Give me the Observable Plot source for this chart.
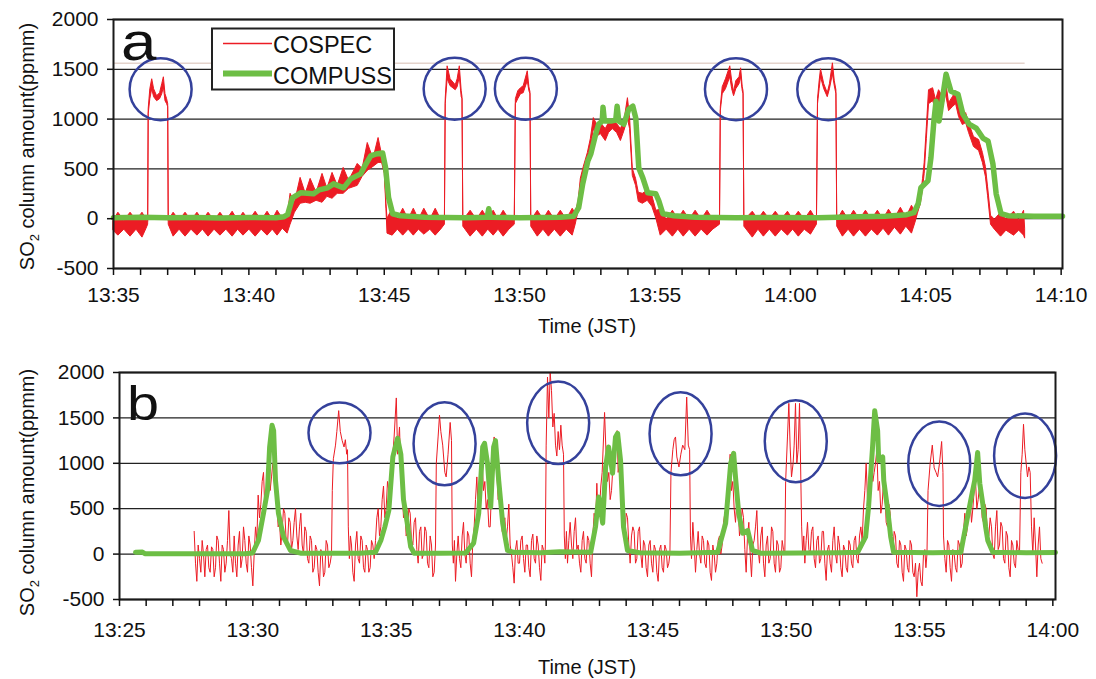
<!DOCTYPE html>
<html><head><meta charset="utf-8">
<script src="https://cdn.jsdelivr.net/npm/d3@7"></script>
<script src="https://cdn.jsdelivr.net/npm/@observablehq/plot@0.6"></script>
<style>
body{margin:0;background:#fff;}
#wrap{position:relative;width:1096px;height:679px;overflow:hidden;background:#fff;}
#wrap svg{position:absolute;left:0;}
</style></head><body><div id="wrap"></div>
<script>
// ---------- DATA ----------
// Panel a: minutes after 13:35 ; Panel b: minutes after 13:25
const yTicks = [-500, 0, 500, 1000, 1500, 2000];
const xTickLabelsA = ["13:35","13:40","13:45","13:50","13:55","14:00","14:05","14:10"];
const xTickLabelsB = ["13:25","13:30","13:35","13:40","13:45","13:50","13:55","14:00"];

// COSPEC panel a: [minute, low envelope, high envelope] (ppmm)
const cospecA = [
[0,-120,-20],[0.18,-170,60],[0.40,-110,-20],[0.63,-180,60],[0.85,-110,-20],[1.07,-190,60],[1.22,-100,-10],[1.28,-60,-30],
[1.30,1050,1100],[1.36,1200,1300],[1.43,1300,1400],[1.50,1220,1300],[1.61,1180,1230],[1.72,1200,1260],[1.80,1250,1350],[1.86,1320,1420],[1.92,1180,1250],[1.98,1150,1200],[2.02,1120,1150],
[2.04,-60,-20],[2.22,-180,60],[2.44,-110,-20],[2.66,-180,60],[2.88,-110,-20],[3.10,-170,60],[3.30,-110,-20],[3.51,-180,60],[3.73,-110,-20],[3.95,-170,60],[4.17,-110,-20],[4.40,-180,70],[4.60,-110,-20],[4.80,-170,60],[5.02,-110,-20],[5.25,-180,70],[5.47,-110,-20],[5.69,-170,70],[5.88,-110,-10],[6.06,-170,80],[6.25,-100,0],
[6.43,-150,20],[6.54,-60,250],[6.70,60,160],[6.91,150,410],[7.10,160,250],[7.28,150,400],[7.50,180,260],[7.72,160,450],[7.90,220,300],[8.09,200,460],[8.28,250,330],[8.50,250,510],[8.70,300,380],[9.02,330,550],[9.20,420,500],[9.39,480,760],[9.60,520,600],[9.79,560,810],[9.92,560,640],[10.02,450,520],[10.08,100,150],[10.12,-150,0],
[10.31,-170,100],[10.50,-110,-10],[10.70,-170,100],[10.90,-110,-10],[11.09,-170,100],[11.28,-110,-10],[11.48,-160,100],[11.70,-110,-10],[11.90,-170,100],[12.10,-110,-10],[12.24,-60,-20],
[12.27,1150,1200],[12.34,1400,1530],[12.45,1330,1400],[12.64,1290,1340],[12.71,1320,1400],[12.79,1420,1530],[12.86,1220,1280],[12.89,1200,1220],
[12.92,-80,-20],[13.19,-180,80],[13.42,-110,-10],[13.64,-180,80],[13.84,-110,-10],[14.04,-170,80],[14.22,-110,-10],[14.41,-180,80],[14.62,-110,-10],[14.82,-60,-20],
[14.86,1150,1200],[14.95,1200,1280],[15.05,1250,1310],[15.15,1260,1330],[15.30,1380,1480],[15.36,1280,1320],[15.40,1250,1270],
[15.43,-80,-20],[15.67,-180,80],[15.88,-110,-10],[16.08,-180,80],[16.30,-110,-10],[16.52,-180,80],[16.74,-110,-10],[16.96,-170,100],
[17.07,-60,50],[17.18,80,180],[17.26,300,400],[17.37,430,520],[17.52,570,660],[17.63,700,800],[17.74,900,1010],[17.85,820,950],[18.00,850,960],[18.18,780,900],[18.30,860,960],[18.44,900,1000],[18.60,860,950],[18.74,780,900],[18.87,880,980],[19.00,1000,1210],[19.08,900,1010],[19.18,430,500],[19.30,330,400],[19.40,170,260],[19.55,150,250],[19.73,180,280],[19.90,120,230],[20.05,0,80],
[20.21,-170,90],[20.43,-110,-10],[20.66,-180,80],[20.86,-110,-10],[21.06,-180,80],[21.28,-110,-10],[21.50,-180,80],[21.72,-110,-10],[21.94,-170,80],[22.15,-110,-10],[22.40,-60,-20],
[22.43,1080,1120],[22.50,1250,1320],[22.62,1300,1400],[22.78,1420,1530],[22.85,1300,1380],[22.92,1230,1270],[23.00,1300,1380],[23.12,1350,1420],[23.18,1420,1510],[23.24,1280,1320],[23.27,1250,1280],
[23.30,-80,-20],[23.61,-190,70],[23.82,-110,-10],[24.02,-180,70],[24.24,-110,-10],[24.46,-180,70],[24.68,-110,-10],[24.91,-170,70],[25.10,-110,-10],[25.31,-180,70],[25.53,-110,-10],[25.76,-160,80],[25.98,-60,-20],
[26.02,1150,1200],[26.08,1300,1380],[26.13,1420,1500],[26.25,1300,1350],[26.38,1220,1260],[26.46,1300,1350],[26.57,1450,1560],[26.64,1330,1380],[26.70,1250,1290],
[26.73,-80,-20],[26.94,-180,80],[27.15,-110,-10],[27.35,-180,80],[27.57,-110,-10],[27.79,-180,80],[28.01,-110,-10],[28.23,-170,80],[28.44,-100,-10],[28.64,-170,90],[28.86,-90,0],[29.08,-160,110],[29.28,-80,10],[29.49,-150,130],[29.62,-40,60],
[29.71,50,130],[29.82,150,220],[29.90,300,400],[29.96,450,560],[30.04,800,920],[30.12,1150,1290],[30.27,1180,1310],[30.38,1100,1190],[30.49,1180,1290],[30.64,1120,1220],[30.75,1250,1380],[30.86,1080,1160],[31.00,1120,1220],[31.12,1150,1280],[31.23,1020,1120],[31.37,940,1020],[31.49,960,1060],[31.60,860,960],[31.78,720,820],[31.97,680,790],[32.11,560,660],[32.22,420,520],[32.30,230,320],[32.41,-60,30],
[32.55,-110,-10],[32.78,-180,60],[32.98,-120,-10],[33.26,-170,70],[33.45,-120,-20],[33.63,-170,80],[33.67,-200,-100]
];

// COMPUSS panel a: [minute, ppmm]
const compussA = [
[0,10],[1,15],[2,10],[3,12],[4,8],[5,12],[6,10],[6.3,20],[6.43,40],[6.61,210],[6.91,260],[7.39,250],[7.6,290],[7.91,310],[8.13,350],[8.5,310],[8.76,400],[9.13,450],[9.24,510],[9.5,630],[9.7,650],[9.94,660],[10.05,510],[10.16,210],[10.31,50],[10.6,30],[11.5,15],[13.0,10],[13.8,15],[13.86,100],[13.92,15],[15,10],[16.5,15],[17.0,25],
[17.18,110],[17.33,350],[17.52,580],[17.63,650],[17.81,850],[17.92,950],[18.05,980],[18.08,1120],[18.13,980],[18.37,980],[18.55,990],[18.6,1130],[18.66,980],[18.85,950],[19.03,1100],[19.18,1130],[19.29,1010],[19.4,510],[19.55,410],[19.73,260],[20.03,250],[20.14,180],[20.29,50],[20.7,30],
[21.5,15],[23,10],[24.5,12],[26,10],[27.5,20],[28.5,25],[29.3,40],[29.56,60],[29.72,150],[29.82,310],[30.08,380],[30.19,610],[30.3,980],[30.38,1180],[30.49,980],[30.64,1250],[30.75,1450],[30.93,1280],[31.19,1250],[31.37,1050],[31.6,950],[31.86,910],[32.11,810],[32.3,780],[32.48,550],[32.6,250],[32.78,50],[33.04,30],[34,25],[35.05,25]
];

// COSPEC panel b: [minute, ppmm]
const cospecB = [
[2.8,250],[2.85,-100],[2.9,-300],[2.95,100],[3.0,-50],[3.05,-200],[3.1,150],[3.15,0],[3.2,-250],[3.25,50],[3.3,100],[3.35,-150],[3.4,-200],[3.45,80],[3.5,50],[3.55,-250],[3.6,-150],[3.65,200],[3.7,150],[3.75,-100],[3.8,-300],[3.85,100],[3.9,50],[3.95,-200],[4.0,-100],[4.05,150],[4.1,480],[4.15,0],[4.2,-50],[4.25,-200],[4.3,200],[4.35,-100],[4.4,-250],[4.45,100],[4.5,250],[4.55,-150],[4.6,-50],[4.65,300],[4.7,150],[4.75,-100],[4.8,-200],[4.85,200],[4.9,100],[4.95,-150],[5.0,-350],[5.05,0],
[5.1,300],[5.15,150],[5.2,650],[5.25,400],[5.3,550],[5.35,800],[5.4,900],[5.45,500],[5.5,600],[5.55,900],[5.6,1000],[5.65,700],[5.7,850],[5.75,1000],[5.8,950],[5.85,700],[5.9,550],[5.95,300],
[6.0,350],[6.05,100],[6.1,250],[6.15,500],[6.2,450],[6.25,150],[6.3,100],[6.35,400],[6.4,350],[6.45,50],[6.5,150],[6.55,350],[6.6,500],[6.65,200],[6.7,50],[6.75,300],[6.8,450],[6.85,100],[6.9,0],[6.95,300],[7.0,250],[7.05,-50],[7.1,-100],[7.15,200],[7.2,150],[7.25,-200],[7.3,-150],[7.35,100],[7.4,50],[7.45,-200],[7.5,-350],[7.55,50],[7.6,0],[7.65,-250],[7.7,-200],[7.75,150],[7.8,100],[7.85,-150],[7.9,-100],[7.95,0],
[7.98,700],[8.02,1050],[8.1,1200],[8.15,1350],[8.22,1580],[8.28,1350],[8.35,1250],[8.42,1180],[8.47,1260],[8.52,1100],[8.55,1150],[8.58,300],
[8.62,-50],[8.66,200],[8.7,100],[8.75,-200],[8.8,-300],[8.85,100],[8.9,250],[8.95,-50],[9.0,-100],[9.05,200],[9.1,150],[9.15,-150],[9.2,-200],[9.25,100],[9.3,50],[9.35,-200],[9.4,-150],[9.45,150],[9.5,100],[9.55,-50],
[9.6,150],[9.65,400],[9.7,500],[9.75,200],[9.8,300],[9.85,600],[9.9,750],[9.95,400],[10.0,500],[10.05,800],[10.1,700],[10.15,500],[10.2,900],[10.25,1100],[10.3,1300],[10.38,1720],[10.43,1100],[10.5,1400],[10.55,900],[10.6,700],[10.65,400],[10.7,500],[10.75,200],[10.8,250],[10.85,500],[10.9,450],[10.95,150],
[11.0,100],[11.05,350],[11.1,400],[11.15,50],[11.2,-100],[11.25,250],[11.3,300],[11.35,-50],[11.4,0],[11.45,300],[11.5,250],[11.55,-100],[11.6,-150],[11.65,200],[11.7,100],[11.75,-250],[11.8,-200],
[11.85,100],[11.88,1000],[11.95,1300],[12.0,1530],[12.05,1350],[12.12,1200],[12.2,900],[12.25,850],[12.32,1100],[12.4,1450],[12.45,1250],[12.48,100],
[12.52,-100],[12.56,150],[12.6,-300],[12.65,0],[12.7,200],[12.75,-50],[12.8,-150],[12.85,200],[12.9,350],[12.95,0],[13.0,-100],[13.05,250],[13.1,200],[13.15,-100],[13.2,-250],[13.25,150],[13.3,300],[13.35,600],[13.4,850],[13.45,500],[13.5,700],[13.55,950],[13.6,1000],[13.65,700],[13.7,800],[13.75,500],[13.8,600],[13.85,300],[13.9,300],[13.95,700],[14.0,1100],[14.05,1290],[14.1,1000],[14.15,900],[14.2,600],[14.25,700],[14.3,500],[14.35,250],[14.4,300],[14.45,400],[14.5,150],[14.55,300],[14.6,550],[14.65,100],[14.7,0],[14.75,-150],[14.8,-320],[14.85,50],[14.9,150],[14.95,-100],[15.0,-100],[15.05,150],[15.1,200],[15.15,-50],[15.2,-200],[15.25,100],[15.3,100],[15.35,-150],[15.4,-250],[15.45,150],[15.5,220],[15.55,-50],[15.6,-100],[15.65,200],[15.7,100],[15.75,-150],[15.8,-290],[15.85,100],[15.9,50],[15.95,-100],
[15.97,100],[16.0,1200],[16.05,1950],[16.1,1500],[16.15,2000],[16.2,1800],[16.25,1400],[16.3,1550],[16.35,1200],[16.4,1080],[16.45,1350],[16.5,1150],[16.55,1420],[16.6,1200],[16.65,1100],[16.68,200],
[16.72,-50],[16.76,250],[16.8,-100],[16.85,150],[16.9,350],[16.95,100],[17.0,-50],[17.05,250],[17.1,400],[17.15,50],[17.2,100],[17.25,-100],[17.3,-200],[17.35,150],[17.4,250],[17.45,-50],[17.5,-100],[17.55,200],[17.6,150],[17.65,-100],[17.7,-250],[17.75,200],[17.8,450],[17.85,300],[17.9,780],[17.95,400],[18.0,500],[18.05,750],[18.1,900],[18.19,1560],[18.25,1070],[18.3,800],[18.35,900],[18.4,600],[18.45,700],[18.5,950],[18.55,1100],[18.62,1290],[18.66,1360],[18.7,900],[18.75,1000],[18.8,700],[18.85,520],[18.9,300],[18.95,200],[19.0,450],[19.05,400],[19.1,100],[19.15,-100],[19.2,200],[19.25,300],[19.3,250],[19.35,-100],[19.4,-50],[19.45,250],[19.5,300],[19.55,0],[19.6,-150],[19.65,150],[19.7,100],[19.75,-150],[19.8,-250],[19.85,100],[19.9,150],[19.95,-100],[20.0,-200],[20.05,100],[20.1,50],[20.15,-200],[20.2,-300],[20.25,50],[20.3,100],[20.35,-150],[20.4,-200],[20.45,100],[20.5,50],[20.55,-150],[20.6,-100],
[20.64,0],[20.68,900],[20.75,1150],[20.8,1260],[20.85,1290],[20.9,1070],[20.98,960],[21.05,1100],[21.12,1200],[21.2,1150],[21.27,1730],[21.33,1200],[21.38,1150],[21.41,200],
[21.45,-50],[21.5,350],[21.55,100],[21.6,-200],[21.65,50],[21.7,250],[21.75,0],[21.8,-100],[21.85,200],[21.9,150],[21.95,-100],[22.0,-150],[22.05,150],[22.1,100],[22.15,-200],[22.2,-290],[22.25,100],[22.3,0],[22.35,-200],[22.4,-100],[22.45,150],[22.5,200],[22.55,0],[22.6,100],[22.65,350],[22.7,450],[22.75,300],[22.8,700],[22.85,900],[22.9,1100],[22.95,700],[23.0,800],[23.05,500],[23.1,350],[23.15,600],[23.2,500],[23.25,200],[23.3,300],[23.35,500],[23.4,400],[23.45,50],[23.5,-200],[23.55,200],[23.6,350],[23.65,0],[23.7,-250],[23.75,100],[23.8,150],[23.85,300],[23.9,480],[23.95,50],[24.0,-100],[24.05,200],[24.1,300],[24.15,-100],[24.2,-250],[24.25,100],[24.3,200],[24.35,-100],[24.4,-50],[24.45,300],[24.5,250],[24.55,-100],[24.6,-200],[24.65,150],[24.7,100],[24.75,-200],[24.8,-150],[24.85,150],[24.9,50],
[24.95,0],[24.98,800],[25.05,1300],[25.1,1660],[25.15,1180],[25.2,850],[25.26,1000],[25.3,1200],[25.35,1660],[25.4,1000],[25.45,1150],[25.5,1660],[25.54,1000],[25.58,300],
[25.62,0],[25.66,200],[25.7,-100],[25.75,150],[25.8,350],[25.85,50],[25.9,0],[25.95,250],[26.0,300],[26.05,-50],[26.1,-150],[26.15,150],[26.2,200],[26.25,-100],[26.3,-50],[26.35,250],[26.4,250],[26.45,-100],[26.5,-290],[26.55,50],[26.6,100],[26.65,-100],[26.7,-200],[26.75,150],[26.8,300],[26.85,0],[26.9,-100],[26.95,200],[27.0,100],[27.05,-150],[27.1,-250],[27.15,100],[27.2,50],[27.25,-150],[27.3,-200],[27.35,150],[27.4,100],[27.45,-100],[27.5,-150],[27.55,150],[27.6,200],[27.65,-50],[27.7,-100],[27.75,200],[27.8,300],[27.85,150],[27.9,500],[27.95,700],[28.0,1000],[28.05,600],[28.1,700],[28.15,950],[28.2,1070],[28.25,800],[28.3,900],[28.35,1000],[28.4,1150],[28.45,700],[28.5,800],[28.55,450],[28.6,550],[28.65,800],[28.7,700],[28.75,350],[28.8,300],[28.85,550],[28.9,450],[28.95,100],[29.0,0],[29.05,250],[29.1,200],[29.15,-100],[29.2,-150],[29.25,150],[29.3,100],[29.35,-200],[29.4,-300],[29.45,100],[29.5,50],[29.55,-150],[29.6,-200],[29.65,150],[29.7,100],[29.75,-200],[29.8,-250],[29.85,-100],[29.9,-470],[29.95,-200],[30.0,-100],[30.05,-300],[30.1,-350],[30.15,0],[30.2,50],[30.24,-150],
[30.28,0],[30.32,700],[30.4,1000],[30.48,1200],[30.55,950],[30.62,900],[30.68,850],[30.75,1000],[30.83,1240],[30.88,900],[30.9,200],
[30.95,-50],[31.0,-200],[31.05,150],[31.1,100],[31.15,-150],[31.2,-300],[31.25,50],[31.3,0],[31.35,-150],[31.4,-200],[31.45,150],[31.5,100],[31.55,-150],[31.6,-100],[31.65,250],[31.7,450],[31.75,200],[31.8,300],[31.85,550],[31.9,600],[31.95,350],[32.0,500],[32.05,700],[32.1,810],[32.15,500],[32.2,600],[32.25,750],[32.3,700],[32.35,400],[32.4,350],[32.45,550],[32.5,500],[32.55,200],[32.6,200],[32.65,400],[32.7,300],[32.75,0],[32.8,-50],[32.85,300],[32.9,480],[32.95,50],[33.0,100],[33.05,350],[33.1,300],[33.15,-50],[33.2,-100],[33.25,250],[33.3,200],[33.35,-150],[33.4,-250],[33.45,150],[33.5,100],[33.55,-100],[33.6,-150],[33.65,150],[33.7,50],
[33.75,0],[33.8,900],[33.85,1100],[33.9,1430],[33.95,1150],[34.0,1000],[34.05,850],[34.1,960],[34.15,900],[34.2,300],
[34.25,0],[34.3,400],[34.35,100],[34.4,-250],[34.45,100],[34.5,300],[34.55,-50],[34.6,-100]
];

// COMPUSS panel b: [minute, ppmm]
const compussB = [
[0.6,20],[0.86,22],[0.95,5],[2,3],[3.5,5],[4.7,5],[4.99,12],[5.21,150],[5.40,450],[5.55,700],[5.63,1180],[5.72,1420],[5.78,1360],[5.85,810],[5.96,450],[6.15,190],[6.41,40],[6.79,10],[8,8],[9,10],[9.6,20],
[9.8,150],[9.95,300],[10.1,480],[10.25,1070],[10.43,1276],[10.55,1100],[10.65,600],[10.75,420],[10.92,80],[11.05,10],[12,8],[12.98,12],
[13.28,120],[13.47,450],[13.62,1180],[13.69,1220],[13.8,1000],[13.92,520],[14.03,1180],[14.1,1250],[14.22,810],[14.37,340],[14.55,40],[14.78,20],[15.8,15],[16.5,25],[17.67,20],
[17.85,300],[17.97,630],[18.12,340],[18.23,960],[18.34,1180],[18.49,890],[18.6,1290],[18.68,1330],[18.79,1030],[18.9,300],[19.05,40],[19.5,15],[21,10],[22.43,20],
[22.73,340],[22.92,1000],[23.03,1110],[23.1,850],[23.22,450],[23.37,230],[23.56,260],[23.74,40],[24.04,10],[25.5,12],[27,15],[27.68,20],
[27.98,190],[28.09,520],[28.24,1180],[28.32,1580],[28.43,1360],[28.47,1030],[28.62,1070],[28.66,810],[28.81,480],[28.92,190],[29.03,20],[30.5,15],[31.55,20],
[31.73,300],[31.92,590],[32.07,810],[32.18,1120],[32.26,780],[32.37,560],[32.48,300],[32.56,150],[32.75,20],[34,15],[35.1,18]
];

// highlighted COSPEC-only peaks (circle centres, data units)
const circlesA = [[1.74,1300],[12.6,1305],[15.23,1305],[22.99,1300],[26.4,1300]];
const circlesB = [[8.25,1336],[12.19,1215],[16.45,1446],[21.04,1325],[25.36,1243],[30.74,995],[33.96,1083]];
const circleStretchB = [0.98,1.34,1.33,1.34,1.32,1.36,1.36];
const saturationA = [1560]; // faint reference line, panel a
const saturationEndA = 33.67;

// ---------- STYLE ----------
const RED = "#ec1c24", GREEN = "#6dbe45", BLUE = "#34419b";
const FONT = '"Liberation Sans", Arial, sans-serif';
const minuteTicks = d3.range(0, 36);

function panel(o) {
  return Plot.plot({
    width: 1096, height: o.height,
    marginTop: o.mt, marginBottom: o.mb, marginLeft: o.ml, marginRight: o.mr,
    style: {fontFamily: FONT, fontSize: "21px", color: "#111", background: "transparent", overflow: "visible"},
    x: {domain: o.xDomain}, y: {domain: [-500, 2000]},
    marks: [
      Plot.ruleY(yTicks, {stroke: "#222", strokeWidth: 1.3}),
      ...o.marks,
      Plot.frame({stroke: "#1a1a1a", strokeWidth: 2}),
      Plot.axisY({ticks: yTicks, tickSize: 6, tickPadding: 9, tickFormat: d => String(d), label: null, strokeWidth: 1.5}),
      Plot.axisX({ticks: minuteTicks, tickSize: 7, tickPadding: o.tickPad, tickFormat: d => d % 5 === 0 ? o.labels[d / 5] : "", label: null, strokeWidth: 1.5})
    ]
  });
}

const svgA = panel({
  height: 345, mt: 19, mb: 77, ml: 113, mr: 34, xDomain: [0, 35.05], labels: xTickLabelsA, tickPad: 12,
  marks: [
    Plot.ruleY(saturationA, {x1: 0, x2: saturationEndA, stroke: "#e4d3cc", strokeWidth: 1.5}),
    Plot.areaY(cospecA, {x: d => d[0], y1: d => d[1], y2: d => d[2], fill: RED, stroke: RED, strokeWidth: 1}),
    Plot.line(compussA, {x: d => d[0], y: d => d[1], stroke: GREEN, strokeWidth: 5.5, strokeLinejoin: "round", strokeLinecap: "round"}),
    Plot.dot(circlesA, {x: d => d[0], y: d => d[1], r: 31, stroke: BLUE, strokeWidth: 2.5, fill: "none"})
  ]
});
svgA.style.top = "0px";

const svgB = panel({
  height: 334, mt: 27, mb: 80, ml: 119, mr: 41, xDomain: [0, 35.1], labels: xTickLabelsB, tickPad: 16,
  marks: [
    Plot.line(cospecB, {x: d => d[0], y: d => d[1], stroke: RED, strokeWidth: 1}),
    Plot.line(compussB, {x: d => d[0], y: d => d[1], stroke: GREEN, strokeWidth: 5, strokeLinejoin: "round", strokeLinecap: "round"}),
    Plot.dot(circlesB, {x: d => d[0], y: d => d[1], r: 31, stroke: BLUE, strokeWidth: 2.5, fill: "none"})
  ]
});
svgB.style.top = "345px";

// stretch panel b circles into ellipses
svgB.querySelectorAll('g[aria-label="dot"] circle').forEach((c, i) => {
  const cx = +c.getAttribute("cx"), cy = +c.getAttribute("cy"), k = circleStretchB[i] || 1;
  c.setAttribute("transform", `translate(${cx},${cy}) scale(1,${k}) translate(${-cx},${-cy})`);
  c.setAttribute("vector-effect", "non-scaling-stroke");
});

const wrap = document.getElementById("wrap");
wrap.appendChild(svgA);
wrap.appendChild(svgB);

// ---------- overlay text (titles, panel letters, legend) ----------
const ov = d3.select(wrap).append("svg").attr("width", 1096).attr("height", 679)
  .style("top", "0px").style("font-family", FONT).style("fill", "#111");

function yTitle(cy) {
  const t = ov.append("text").attr("transform", `translate(34,${cy}) rotate(-90)`)
    .attr("text-anchor", "middle").attr("font-size", 20);
  t.append("tspan").text("SO");
  t.append("tspan").attr("font-size", 13).attr("dy", 5).text("2");
  t.append("tspan").attr("dy", -5).text(" column amount(ppmm)");
}
yTitle(146.5);
yTitle(492.5);
ov.append("text").attr("x", 587).attr("y", 333).attr("text-anchor", "middle").attr("font-size", 20).text("Time (JST)");
ov.append("text").attr("x", 587).attr("y", 674).attr("text-anchor", "middle").attr("font-size", 20).text("Time (JST)");
ov.append("text").attr("transform", "translate(121,60) scale(1.2,1)").attr("font-size", 53).text("a");
ov.append("text").attr("transform", "translate(127,420) scale(1.2,1)").attr("font-size", 48).text("b");

// legend
ov.append("rect").attr("x", 212).attr("y", 28.5).attr("width", 182).attr("height", 61)
  .attr("fill", "#fff").attr("stroke", "#222").attr("stroke-width", 2);
ov.append("line").attr("x1", 223).attr("x2", 272).attr("y1", 43.5).attr("y2", 43.5).attr("stroke", RED).attr("stroke-width", 1.5);
ov.append("line").attr("x1", 223).attr("x2", 272).attr("y1", 73.5).attr("y2", 73.5).attr("stroke", GREEN).attr("stroke-width", 6);
ov.append("text").attr("x", 273).attr("y", 53).attr("font-size", 23.5).text("COSPEC");
ov.append("text").attr("x", 273).attr("y", 84).attr("font-size", 23.5).text("COMPUSS");
</script></body></html>
